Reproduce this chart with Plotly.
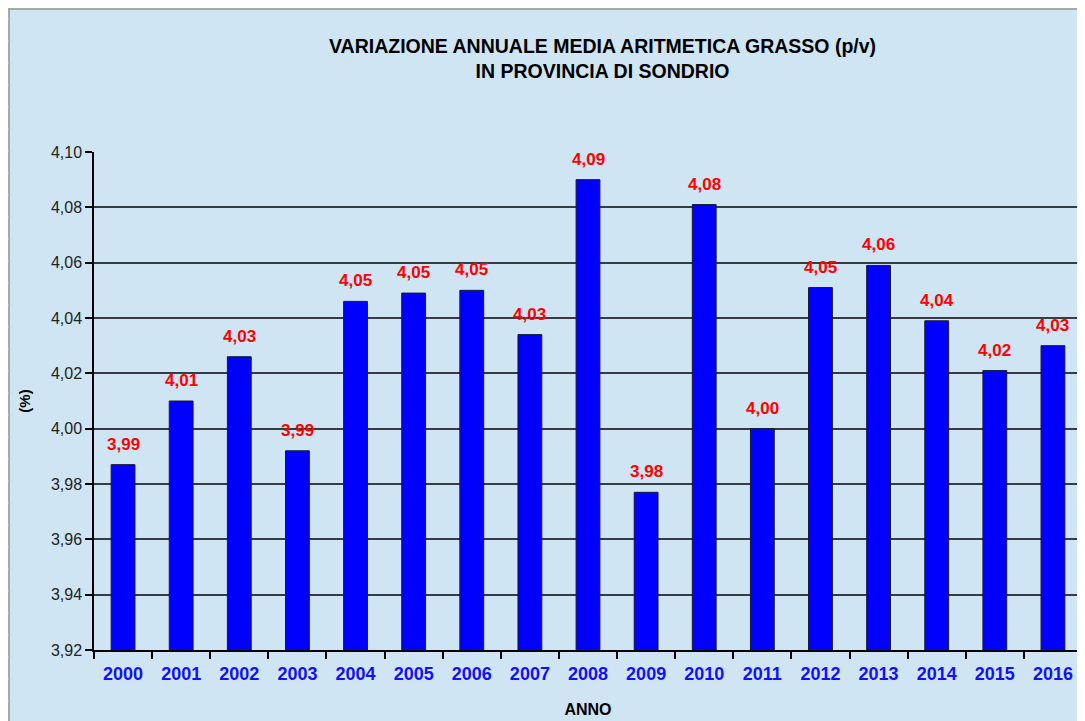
import plotly.graph_objects as go

years = ["2000", "2001", "2002", "2003", "2004", "2005", "2006", "2007", "2008",
         "2009", "2010", "2011", "2012", "2013", "2014", "2015", "2016"]
fat = [3.987, 4.010, 4.026, 3.992, 4.046, 4.049, 4.050, 4.034, 4.090,
       3.977, 4.081, 4.000, 4.051, 4.059, 4.039, 4.021, 4.030]
y_ticks = [3.92, 3.94, 3.96, 3.98, 4.00, 4.02, 4.04, 4.06, 4.08, 4.10]
title_text = "VARIAZIONE ANNUALE MEDIA ARITMETICA GRASSO (p/v)<br>IN PROVINCIA DI SONDRIO"

# page body has an 8px margin: the figure is sized/positioned to compensate
OFF = 8
W, H = 1085 - OFF, 721 - OFF
BG = "#CFE5F3"
FONT = "Arial, Liberation Sans, sans-serif"

L, R, T, B = 94 - OFF, 3, 152 - OFF, 71
pw, ph = W - L - R, H - T - B


def px(x):  # reference page x -> paper
    return (x - OFF - L) / pw


def py(y):  # reference page y -> paper
    return (H - B - (y - OFF)) / ph


fig = go.Figure()
fig.add_trace(go.Bar(
    x=years, y=fat,
    marker=dict(color="#0000FF", line=dict(color="#1a1a2e", width=1)),
    width=0.41,
    hoverinfo="x+y",
))

# value labels above bars (category index positions on the category axis)
for i, v in enumerate(fat):
    fig.add_annotation(
        x=i, y=v, xref="x", yref="y",
        text=f"{v:.2f}".replace(".", ","),
        showarrow=False, yanchor="bottom", yshift=9,
        font=dict(color="#FF0000", size=17, family=FONT, weight="bold"),
    )

fig.update_layout(
    width=W, height=H,
    margin=dict(l=L, r=R, t=T, b=B),
    paper_bgcolor=BG,
    plot_bgcolor=BG,
    separators=",.",
    showlegend=False,
    bargap=0.59,
    font=dict(family=FONT),
)

fig.update_yaxes(
    range=[3.92, 4.10], tickvals=y_ticks,
    tickformat=".2f",
    showgrid=True, gridcolor="#383c42", gridwidth=1.5,
    showline=True, linecolor="black", linewidth=1.5,
    ticks="outside", ticklen=7, tickcolor="black", tickwidth=1.5,
    tickfont=dict(size=16, color="#222222", family=FONT),
    zeroline=False,
    title=dict(text="(%)", font=dict(size=15, color="black", family=FONT, weight="bold"), standoff=17),
)
fig.update_xaxes(
    type="category",
    categoryorder="array", categoryarray=years,
    range=[-0.5, len(years) - 0.5],
    showline=True, linecolor="black", linewidth=1.5,
    ticks="outside", tickson="boundaries", ticklen=7, tickcolor="black", tickwidth=1.5,
    tickangle=0, ticklabelstandoff=7,
    tickfont=dict(size=18, color="#1010FF", family=FONT, weight="bold"),
    title=dict(text="ANNO", font=dict(size=16, color="black", family=FONT, weight="bold"), standoff=20),
)

shapes = [
    # top border of chart area
    dict(type="line", xref="paper", yref="paper", x0=px(OFF), x1=px(1090), y0=py(OFF + 1), y1=py(OFF + 1),
         line=dict(color="#A8A8A8", width=2)),
    # left border of chart area
    dict(type="line", xref="paper", yref="paper", x0=px(OFF + 1), x1=px(OFF + 1), y0=py(OFF), y1=py(730),
         line=dict(color="#A8A8A8", width=2)),
    # plot area right border
    dict(type="line", xref="paper", yref="paper", x0=1, x1=1, y0=0, y1=1,
         line=dict(color="#8a9097", width=1.5)),
]
for yc in range(19, 721, 22):
    shapes.append(dict(type="line", xref="paper", yref="paper", x0=px(OFF), x1=px(OFF + 3),
                       y0=py(yc), y1=py(yc), line=dict(color="#BDBDBD", width=1)))
fig.update_layout(shapes=shapes)

fig.add_annotation(
    text=title_text, xref="paper", yref="paper",
    x=px(602), y=py(33), xanchor="center", yanchor="top", showarrow=False,
    font=dict(size=19.5, color="black", family=FONT, weight="bold"), align="center",
)

fig.write_html("out.html")
